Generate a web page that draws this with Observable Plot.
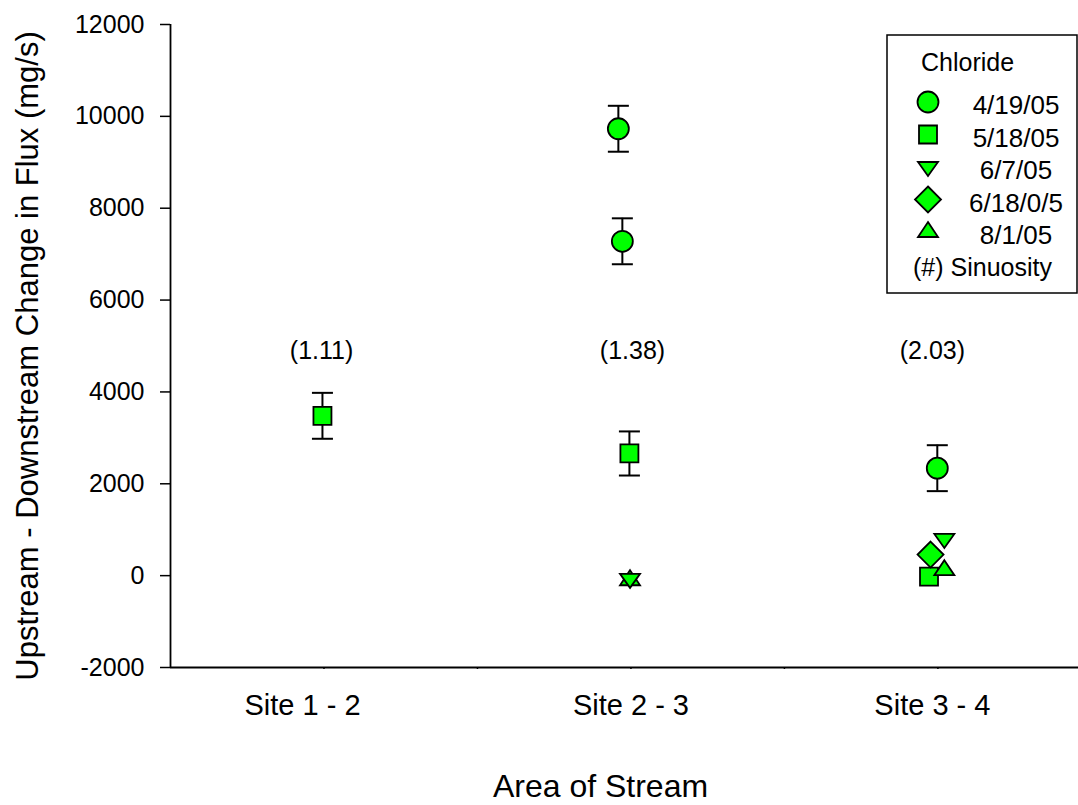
<!DOCTYPE html>
<html><head><meta charset="utf-8">
<script src="https://cdn.jsdelivr.net/npm/d3@7"></script>
<script src="https://cdn.jsdelivr.net/npm/@observablehq/plot@0.6"></script>
<style>
body{margin:0;background:#fff;font-family:"Liberation Sans",Arial,sans-serif;}
#wrap{position:relative;width:1078px;height:805px;overflow:hidden;background:#fff;}
#legend{position:absolute;left:886px;top:34px;}
</style></head><body><div id="wrap"></div>
<script>
// ---- data ----
const dates = ["4/19/05","5/18/05","6/7/05","6/18/0/5","8/1/05"];
const legendTitle = "Chloride";
const legendNote = "(#) Sinuosity";
const siteLabels = ["Site 1 - 2","Site 2 - 3","Site 3 - 4"];
const siteLabelX = [0.93, 2.0, 2.982];
const sinuosity = ["(1.11)","(1.38)","(2.03)"];
const sinuosityX = [0.992, 2.005, 2.982];
const sinuosityY = 4900;
const yTicks = [-2000,0,2000,4000,6000,8000,10000,12000];
const xTicks = [1,1.5,2,2.5,3];
const xDomain = [0.5, 3.458];
const yDomain = [-2000, 12000];
const yTitle = "Upstream - Downstream Change in Flux (mg/s)";
const xTitle = "Area of Stream";

const pointX    = [0.995, 1.959, 1.972, 1.995, 1.997, 1.997, 2.998, 2.971, 2.976, 3.021, 3.021];
const pointY    = [3480, 9730, 7280, 2660, -100, -70, 2340, -20, 460, 800, 120];
const pointErr  = [500, 500, 500, 480, null, null, 500, null, null, null, null];
const pointDate = ["5/18/05","4/19/05","4/19/05","5/18/05","8/1/05","6/7/05","4/19/05","5/18/05","6/18/0/5","6/7/05","8/1/05"];
const drawOrder = ["4/19/05","5/18/05","8/1/05","6/18/0/5","6/7/05"];

const points = pointX.map((x,i)=>({x, y:pointY[i], err:pointErr[i], date:pointDate[i]}))
  .sort((a,b)=>drawOrder.indexOf(a.date)-drawOrder.indexOf(b.date));
const errData = points.filter(d=>d.err!=null);

// ---- symbols ----
const sym = {
  circle:{draw(c){c.moveTo(10.5,0);c.arc(0,0,10.5,0,2*Math.PI);}},
  square:{draw(c){c.rect(-9,-9,18,18);}},
  down:{draw(c){c.moveTo(-10,-5);c.lineTo(10,-5);c.lineTo(0,9);c.closePath();}},
  diamond:{draw(c){c.moveTo(0,-13);c.lineTo(13,0);c.lineTo(0,13);c.lineTo(-13,0);c.closePath();}},
  up:{draw(c){c.moveTo(0,-10);c.lineTo(10,5);c.lineTo(-10,5);c.closePath();}}
};
const symbolRange = [sym.circle, sym.square, sym.down, sym.diamond, sym.up];
const cap = {draw(c){c.moveTo(-10.5,0);c.lineTo(10.5,0);}};
const green = "#00ff00";
const font = '"Liberation Sans", Arial, sans-serif';

const plot = Plot.plot({
  width:1078, height:805,
  marginTop:24, marginBottom:138, marginLeft:170, marginRight:0,
  x:{domain:xDomain},
  y:{domain:yDomain},
  symbol:{domain:dates, range:symbolRange},
  style:{fontFamily:font, fontSize:"24px", color:"#000", background:"#fff"},
  marks:[
    Plot.axisY({ticks:yTicks, tickSize:10, tickPadding:16, tickFormat:d=>String(d), fontSize:25, label:null, strokeWidth:1.5}),
    Plot.axisX({ticks:xTicks, tickSize:2, tickFormat:()=>"", label:null, strokeWidth:1.5}),
    Plot.ruleX([xDomain[0]], {y1:yDomain[0], y2:yDomain[1], strokeWidth:1.8}),
    Plot.ruleY([yDomain[0]], {strokeWidth:1.8}),
    Plot.ruleX(errData, {x:"x", y1:d=>d.y-d.err, y2:d=>d.y+d.err, strokeWidth:2}),
    Plot.dot(errData, {x:"x", y:d=>d.y+d.err, symbol:cap, stroke:"black", fill:"none", strokeWidth:2}),
    Plot.dot(errData, {x:"x", y:d=>d.y-d.err, symbol:cap, stroke:"black", fill:"none", strokeWidth:2}),
    Plot.dot(points, {x:"x", y:"y", symbol:"date", fill:green, stroke:"black", strokeWidth:1.8}),
    Plot.text(sinuosity, {x:(d,i)=>sinuosityX[i], y:()=>sinuosityY, text:d=>d, fontSize:25}),
    Plot.text(siteLabels, {x:(d,i)=>siteLabelX[i], text:d=>d, frameAnchor:"bottom", lineAnchor:"middle", dy:38, fontSize:29}),
    Plot.text([yTitle], {text:d=>d, frameAnchor:"left", textAnchor:"middle", lineAnchor:"middle", dx:-142, dy:10, rotate:-90, fontSize:31}),
    Plot.text([xTitle], {text:d=>d, frameAnchor:"bottom", lineAnchor:"middle", dx:-24, dy:119, fontSize:32})
  ]
});
const wrap = document.getElementById("wrap");
wrap.appendChild(plot);

// ---- legend (in-plot box) ----
const lg = d3.select(wrap).append("svg").attr("id","legend")
  .attr("width",192).attr("height",262)
  .style("font-family", font).style("font-size","26px");
lg.append("rect").attr("x",1).attr("y",1).attr("width",190).attr("height",258)
  .attr("fill","#fff").attr("stroke","#000").attr("stroke-width",1.5);
lg.append("text").attr("x",35).attr("y",28).attr("dominant-baseline","central").style("font-size","25px").text(legendTitle);
dates.forEach((d,i)=>{
  const p = d3.path(); symbolRange[i].draw(p);
  lg.append("path").attr("d",p.toString())
    .attr("transform",`translate(42,${68+i*32.5})`)
    .attr("fill",green).attr("stroke","#000").attr("stroke-width",1.8);
  lg.append("text").attr("x",130).attr("y",71+i*32.5).attr("text-anchor","middle")
    .attr("dominant-baseline","central").text(d);
});
lg.append("text").attr("x",27).attr("y",233).attr("dominant-baseline","central").style("font-size","25px").text(legendNote);
</script>
</body></html>
